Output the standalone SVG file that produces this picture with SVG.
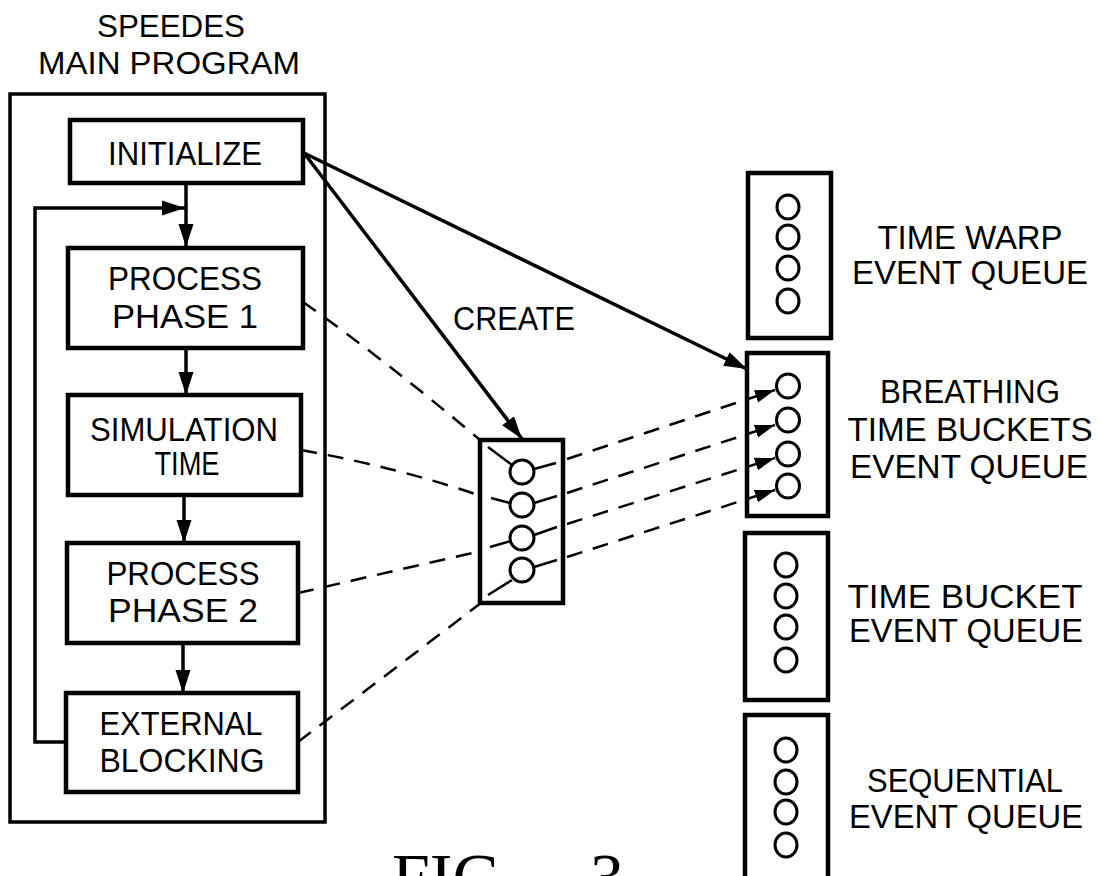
<svg xmlns="http://www.w3.org/2000/svg" width="1102" height="876" viewBox="0 0 1102 876">
<style>
.box{fill:none;stroke:#000;stroke-width:4.5}
.outer{fill:none;stroke:#000;stroke-width:3.5}
.t{font-family:"Liberation Sans",Arial,sans-serif;font-size:34px;text-anchor:middle;fill:#000}
.ttl{font-family:"Liberation Sans",Arial,sans-serif;font-size:32px;text-anchor:middle;fill:#000}
.fig{font-family:"Liberation Serif","Times New Roman",serif;font-size:68px;fill:#000}
.conn{stroke:#000;stroke-width:3.5;fill:none}
.thin{stroke:#000;stroke-width:2.5;fill:none}
.dash{stroke:#000;stroke-width:2.5;fill:none;stroke-dasharray:16 11}
.q{fill:none;stroke:#000;stroke-width:3}
</style>
<defs>
<marker id="ah" markerUnits="userSpaceOnUse" markerWidth="24" markerHeight="18" refX="23" refY="9" orient="auto"><path d="M0,1.5 L23,9 L0,16.5 z" fill="#000"/></marker>
<marker id="ahs" markerUnits="userSpaceOnUse" markerWidth="21" markerHeight="15" refX="20" refY="7.5" orient="auto"><path d="M0,1 L20,7.5 L0,14 z" fill="#000"/></marker>
</defs>

<g id="main-program">
<text class="ttl" x="171" y="37" textLength="148" lengthAdjust="spacingAndGlyphs">SPEEDES</text>
<text class="ttl" x="169" y="74" textLength="262" lengthAdjust="spacingAndGlyphs">MAIN  PROGRAM</text>
<rect class="outer" x="10" y="94" width="315" height="728"/>
</g>

<g id="initialize">
<rect class="box" x="70" y="120" width="233" height="63"/>
<text class="t" x="185" y="165" textLength="154" lengthAdjust="spacingAndGlyphs">INITIALIZE</text>
</g>
<g id="process-phase-1">
<rect class="box" x="68" y="248" width="235" height="100"/>
<text class="t" x="185" y="290" textLength="154" lengthAdjust="spacingAndGlyphs">PROCESS</text>
<text class="t" x="185" y="328" textLength="146" lengthAdjust="spacingAndGlyphs">PHASE  1</text>
</g>
<g id="simulation-time">
<rect class="box" x="68" y="395" width="233" height="100"/>
<text class="t" x="184" y="441" textLength="188" lengthAdjust="spacingAndGlyphs">SIMULATION</text>
<text class="t" x="187" y="475" textLength="65" lengthAdjust="spacingAndGlyphs">TIME</text>
</g>
<g id="process-phase-2">
<rect class="box" x="67" y="543" width="231" height="100"/>
<text class="t" x="183" y="585" textLength="153" lengthAdjust="spacingAndGlyphs">PROCESS</text>
<text class="t" x="183" y="622" textLength="150" lengthAdjust="spacingAndGlyphs">PHASE  2</text>
</g>
<g id="external-blocking">
<rect class="box" x="66" y="693" width="232" height="99"/>
<text class="t" x="181" y="735" textLength="163" lengthAdjust="spacingAndGlyphs">EXTERNAL</text>
<text class="t" x="182" y="772" textLength="165" lengthAdjust="spacingAndGlyphs">BLOCKING</text>
</g>

<g id="created-queue">
<rect class="box" x="480" y="440" width="83" height="163"/>
<circle class="q" cx="522" cy="472" r="12"/>
<circle class="q" cx="522" cy="505" r="12"/>
<circle class="q" cx="522" cy="538" r="12"/>
<circle class="q" cx="522" cy="570" r="12"/>
<path class="thin" d="M488,447 L512,465 M534,469 L556,463 M491,498 L510,503 M534,503 L557,496 M490,547 L511,541 M534,535 L557,527 M488,595 L512,580 M534,567 L557,560"/>
</g>

<g id="time-warp-queue">
<rect class="box" x="748" y="173" width="83" height="165"/>
<ellipse class="q" cx="788" cy="207" rx="11" ry="12"/>
<ellipse class="q" cx="788" cy="237" rx="11" ry="12"/>
<ellipse class="q" cx="788" cy="268" rx="11" ry="12"/>
<ellipse class="q" cx="788" cy="301" rx="11" ry="12"/>
<text class="t" x="970" y="249" textLength="185" lengthAdjust="spacingAndGlyphs">TIME  WARP</text>
<text class="t" x="970" y="284" textLength="236" lengthAdjust="spacingAndGlyphs">EVENT  QUEUE</text>
</g>
<g id="breathing-queue">
<rect class="box" x="747" y="353" width="81" height="163"/>
<ellipse class="q" cx="788" cy="386" rx="11.5" ry="12"/>
<ellipse class="q" cx="788" cy="420" rx="11.5" ry="12"/>
<ellipse class="q" cx="788" cy="454" rx="11.5" ry="12"/>
<ellipse class="q" cx="788" cy="486" rx="11.5" ry="12"/>
<text class="t" x="970" y="403" textLength="180" lengthAdjust="spacingAndGlyphs">BREATHING</text>
<text class="t" x="970" y="441" textLength="245" lengthAdjust="spacingAndGlyphs">TIME  BUCKETS</text>
<text class="t" x="969" y="478" textLength="238" lengthAdjust="spacingAndGlyphs">EVENT  QUEUE</text>
</g>
<g id="time-bucket-queue">
<rect class="box" x="745" y="533" width="83" height="167"/>
<ellipse class="q" cx="786" cy="565" rx="11" ry="12"/>
<ellipse class="q" cx="786" cy="596" rx="11" ry="12"/>
<ellipse class="q" cx="786" cy="627" rx="11" ry="12"/>
<ellipse class="q" cx="786" cy="660" rx="11" ry="12"/>
<text class="t" x="965" y="608" textLength="235" lengthAdjust="spacingAndGlyphs">TIME  BUCKET</text>
<text class="t" x="966" y="642" textLength="234" lengthAdjust="spacingAndGlyphs">EVENT  QUEUE</text>
</g>
<g id="sequential-queue">
<rect class="box" x="745" y="715" width="83" height="180"/>
<ellipse class="q" cx="786" cy="750" rx="11" ry="12"/>
<ellipse class="q" cx="786" cy="782" rx="11" ry="12"/>
<ellipse class="q" cx="786" cy="812" rx="11" ry="12"/>
<ellipse class="q" cx="786" cy="845" rx="11" ry="12"/>
<text class="t" x="965" y="792" textLength="196" lengthAdjust="spacingAndGlyphs">SEQUENTIAL</text>
<text class="t" x="966" y="828" textLength="234" lengthAdjust="spacingAndGlyphs">EVENT  QUEUE</text>
</g>

<g id="connectors">
<path class="conn" d="M186,183 L186,247" marker-end="url(#ah)"/>
<path class="conn" d="M67,742 L35,742 L35,208 L185,208" marker-end="url(#ah)"/>
<path class="conn" d="M186,348 L186,395" marker-end="url(#ah)"/>
<path class="conn" d="M184,495 L184,543" marker-end="url(#ah)"/>
<path class="conn" d="M183,643 L183,693" marker-end="url(#ah)"/>
<path class="conn" d="M304,153 L522,439" marker-end="url(#ah)"/>
<path class="conn" d="M304,153 L747,369" marker-end="url(#ah)"/>
<text class="t" x="514" y="330" textLength="122" lengthAdjust="spacingAndGlyphs">CREATE</text>
<path class="dash" d="M303,302 Q385,360 480,440"/>
<path class="dash" d="M301,450 Q400,468 481,496"/>
<path class="dash" d="M298,593 L481,551"/>
<path class="dash" d="M298,742 L481,603"/>
<path class="dash" d="M567,459 L775,390" marker-end="url(#ahs)"/>
<path class="dash" d="M567,493 L775,425" marker-end="url(#ahs)"/>
<path class="dash" d="M567,524 L775,458" marker-end="url(#ahs)"/>
<path class="dash" d="M567,557 L775,490" marker-end="url(#ahs)"/>
</g>

<g id="figure-label">
<text class="fig" y="900"><tspan x="392">FIG.</tspan><tspan x="590">3</tspan></text>
</g>
</svg>
